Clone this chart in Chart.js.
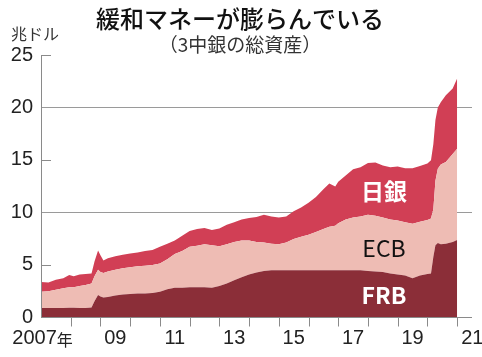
<!DOCTYPE html>
<html>
<head>
<meta charset="utf-8">
<script src="https://cdn.jsdelivr.net/npm/chart.js@4.4.1/dist/chart.umd.min.js"></script>
<style>
  html, body { margin: 0; padding: 0; background: #fff; }
  #wrap { width: 482px; height: 357px; }
</style>
</head>
<body>
<div id="wrap"><canvas id="chart" width="482" height="357"></canvas></div>
<script>
// 年（小数）と各中銀の総資産（兆ドル）
const dates = [
  2007.0, 2007.25, 2007.5, 2007.75, 2007.95, 2008.1, 2008.3, 2008.5, 2008.7, 2008.8,
  2008.92, 2009.0, 2009.1, 2009.25, 2009.5, 2009.75, 2010.0, 2010.25, 2010.5, 2010.75,
  2011.0, 2011.25, 2011.5, 2011.75, 2012.0, 2012.25, 2012.5, 2012.75, 2013.0, 2013.25,
  2013.5, 2013.75, 2014.0, 2014.25, 2014.5, 2014.75, 2015.0, 2015.25, 2015.5, 2015.75,
  2016.0, 2016.25, 2016.5, 2016.7, 2016.9, 2017.0, 2017.25, 2017.5, 2017.75, 2018.0,
  2018.25, 2018.5, 2018.75, 2019.0, 2019.25, 2019.5, 2019.75, 2020.0, 2020.12, 2020.2,
  2020.27, 2020.35, 2020.45, 2020.62, 2020.85, 2021.0
];
const frb = [
  0.85, 0.85, 0.85, 0.85, 0.88, 0.88, 0.85, 0.85, 0.90, 1.50,
  2.10, 1.95, 1.85, 1.90, 2.05, 2.15, 2.20, 2.25, 2.25, 2.30,
  2.40, 2.65, 2.80, 2.80, 2.85, 2.85, 2.85, 2.80, 2.95, 3.20,
  3.50, 3.80, 4.05, 4.25, 4.40, 4.45, 4.45, 4.45, 4.45, 4.45,
  4.45, 4.45, 4.45, 4.45, 4.45, 4.45, 4.45, 4.45, 4.45, 4.40,
  4.35, 4.30, 4.15, 4.05, 3.95, 3.70, 3.95, 4.10, 4.15, 5.75,
  6.85, 7.05, 6.95, 7.00, 7.15, 7.35
];
const ecb = [
  1.55, 1.60, 1.75, 1.90, 1.97, 1.97, 2.10, 2.20, 2.30, 2.40,
  2.40, 2.35, 2.35, 2.45, 2.45, 2.50, 2.55, 2.60, 2.65, 2.65,
  2.70, 2.85, 3.20, 3.50, 3.85, 3.95, 4.10, 4.05, 3.80, 3.75,
  3.65, 3.50, 3.25, 2.90, 2.70, 2.55, 2.50, 2.65, 3.00, 3.20,
  3.40, 3.65, 3.95, 4.15, 4.25, 4.50, 4.85, 5.05, 5.15, 5.35,
  5.30, 5.20, 5.15, 5.15, 5.10, 5.20, 5.15, 5.15, 5.25, 4.55,
  6.15, 7.10, 7.60, 7.80, 8.40, 8.70
];
const boj = [
  0.95, 0.85, 0.95, 0.95, 1.15, 1.05, 1.10, 1.05, 0.95, 1.40,
  1.85, 1.60, 1.20, 1.25, 1.30, 1.30, 1.30, 1.30, 1.40, 1.45,
  1.60, 1.50, 1.30, 1.45, 1.50, 1.60, 1.55, 1.45, 1.70, 1.85,
  1.90, 2.00, 2.15, 2.40, 2.65, 2.60, 2.55, 2.50, 2.65, 2.80,
  3.05, 3.35, 3.80, 4.15, 3.75, 3.95, 4.20, 4.60, 4.70, 4.95,
  5.10, 4.95, 5.00, 5.15, 5.15, 5.30, 5.30, 5.40, 5.55, 6.20,
  5.80, 5.85, 5.95, 6.35, 6.25, 6.70
];

const yTicks = [0, 5, 10, 15, 20, 25];
const yGridValues = [10, 20];
const xTickYears = [2008, 2009, 2010, 2011, 2012, 2013, 2014, 2015, 2016, 2017, 2018, 2019, 2020, 2021];
const xLabels = ['2007', '09', '11', '13', '15', '17', '19', '21'];
const xLabelYears = [2007, 2009, 2011, 2013, 2015, 2017, 2019, 2021];

const colors = { frb: '#8b2e38', ecb: '#eebcb4', boj: '#d13f55' };
const numFont = '"Liberation Sans", sans-serif';
const jpFont = '"Noto Sans CJK JP", sans-serif';

const toPoints = arr => arr.map((v, i) => ({ x: dates[i], y: v }));

// 軸・目盛り・タイトル類を描画
const decor = {
  id: 'decor',
  beforeDatasetsDraw(chart) {
    const { ctx, chartArea: a, scales: { y } } = chart;
    ctx.save();
    ctx.strokeStyle = '#9a9a9a';
    ctx.lineWidth = 1;
    yGridValues.forEach(v => {
      const py = Math.round(y.getPixelForValue(v)) + 0.5;
      ctx.beginPath();
      ctx.moveTo(a.left, py);
      ctx.lineTo(a.right, py);
      ctx.stroke();
    });
    ctx.restore();
  },
  afterDraw(chart) {
    const { ctx, chartArea: a, scales: { x, y } } = chart;
    ctx.save();
    ctx.strokeStyle = '#8a8a8a';
    ctx.lineWidth = 1;
    // y軸
    const ax = Math.round(a.left) + 0.5;
    ctx.beginPath();
    ctx.moveTo(ax, y.getPixelForValue(25));
    ctx.lineTo(ax, y.getPixelForValue(0));
    ctx.stroke();
    // 横軸
    const by = Math.round(y.getPixelForValue(0)) + 0.5;
    ctx.beginPath();
    ctx.moveTo(a.left, by);
    ctx.lineTo(a.right, by);
    ctx.stroke();
    // y目盛り（短い線）
    [5, 15, 25].forEach(v => {
      const py = Math.round(y.getPixelForValue(v)) + 0.5;
      ctx.beginPath();
      ctx.moveTo(a.left, py);
      ctx.lineTo(a.left + 10, py);
      ctx.stroke();
    });
    // x目盛り
    xTickYears.forEach(t => {
      const px = Math.round(x.getPixelForValue(t)) + 0.5;
      ctx.beginPath();
      ctx.moveTo(px, by);
      ctx.lineTo(px, by + 9);
      ctx.stroke();
    });

    ctx.fillStyle = '#222';
    ctx.font = '20px ' + numFont;
    ctx.textAlign = 'right';
    ctx.textBaseline = 'middle';
    yTicks.forEach(v => {
      ctx.fillText(String(v), a.left - 8, y.getPixelForValue(v));
    });

    const ly = by + 21;
    xLabels.forEach((lab, i) => {
      const t = xLabelYears[i];
      if (i === 0) {
        ctx.textAlign = 'right';
        ctx.fillText(lab, x.getPixelForValue(t + 0.53), ly);
      } else if (t === 2021) {
        ctx.textAlign = 'left';
        ctx.fillText(lab, x.getPixelForValue(t) + 4, ly);
      } else {
        ctx.textAlign = 'center';
        ctx.fillText(lab, x.getPixelForValue(t + 0.5), ly);
      }
    });
    ctx.textAlign = 'left';
    ctx.font = '16px ' + jpFont;
    ctx.fillText('年', x.getPixelForValue(2007.53), ly + 1);

    // 単位
    ctx.font = '16px ' + jpFont;
    ctx.fillStyle = '#333';
    ctx.fillText('兆ドル', 11, 34);

    // タイトル
    ctx.textAlign = 'center';
    ctx.fillStyle = '#111';
    ctx.font = '500 24px ' + jpFont;
    ctx.fillText('緩和マネーが膨らんでいる', 240, 19);
    ctx.font = '19px ' + jpFont;
    ctx.fillStyle = '#333';
    ctx.fillText('（3中銀の総資産）', 240, 45);

    // 系列名
    ctx.font = 'bold 23px ' + jpFont;
    ctx.fillStyle = '#fff';
    ctx.fillText('日銀', 384, 191);
    ctx.fillText('FRB', 384, 295);
    ctx.font = '23px ' + jpFont;
    ctx.fillStyle = '#111';
    ctx.fillText('ECB', 384, 248);
    ctx.restore();
  }
};

new Chart(document.getElementById('chart'), {
  type: 'line',
  data: {
    datasets: [
      { label: 'FRB', data: toPoints(frb), backgroundColor: colors.frb, fill: 'origin' },
      { label: 'ECB', data: toPoints(ecb), backgroundColor: colors.ecb, fill: '-1' },
      { label: '日銀', data: toPoints(boj), backgroundColor: colors.boj, fill: '-1' }
    ].map(d => Object.assign(d, { borderWidth: 0, pointRadius: 0, tension: 0, borderColor: 'transparent' }))
  },
  options: {
    responsive: false,
    animation: false,
    layout: { padding: { left: 41, right: 10, top: 55, bottom: 40 } },
    plugins: { legend: { display: false }, tooltip: { enabled: false } },
    scales: {
      x: { type: 'linear', min: 2007, max: 2021.5, display: false },
      y: { stacked: true, min: 0, max: 25, display: false }
    }
  },
  plugins: [decor]
});
</script>
</body>
</html>
